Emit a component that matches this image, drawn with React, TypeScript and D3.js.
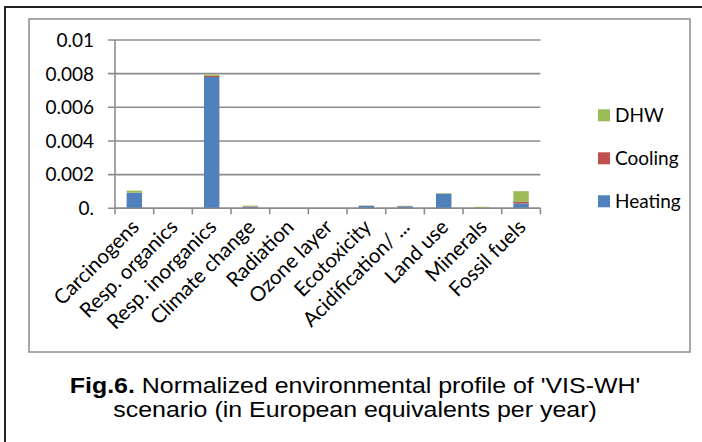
import * as d3 from "d3";

const categories = [
  "Carcinogens",
  "Resp. organics",
  "Resp. inorganics",
  "Climate change",
  "Radiation",
  "Ozone layer",
  "Ecotoxicity",
  "Acidification/ ...",
  "Land use",
  "Minerals",
  "Fossil fuels",
];

const heating = [0.00092, 0.0, 0.0078, 0.00008, 0.0, 0.0, 0.00014, 0.00012, 0.00086, 0.00002, 0.00029];
const cooling = [0.00001, 0.0, 0.00007, 0.00003, 0.0, 0.0, 0.00001, 0.00001, 0.00001, 0.00001, 0.00009];
const dhw = [0.00012, 0.0, 0.00008, 0.00005, 0.0, 0.0, 0.00002, 0.00002, 0.00003, 0.00006, 0.00064];

const yTicks = [0, 0.002, 0.004, 0.006, 0.008, 0.01];
const yTickLabels = ["0.", "0.002", "0.004", "0.006", "0.008", "0.01"];

const seriesKeys = ["Heating", "Cooling", "DHW"];
const colors: Record<string, string> = {
  Heating: "#4f81bd",
  Cooling: "#c0504d",
  DHW: "#9bbb59",
};
const legendOrder = ["DHW", "Cooling", "Heating"];

const W = 702;
const H = 442;
const FONT = "Lato, 'Open Sans', sans-serif";
const CAPTION_FONT = "'Liberation Sans', Arial, sans-serif";
const GRID = "#8c8c8c";

type Row = { cat: string; Heating: number; Cooling: number; DHW: number };

const App = () => {
  const rows: Row[] = categories.map((c, i) => ({
    cat: c,
    Heating: heating[i],
    Cooling: cooling[i],
    DHW: dhw[i],
  }));

  const x = d3
    .scaleBand()
    .domain(categories)
    .range([115, 540.4])
    .paddingInner(0.6)
    .paddingOuter(0.3);
  const y = d3.scaleLinear().domain([0, 0.01]).range([208.3, 40]);

  const stacked = d3.stack<Row>().keys(seriesKeys)(rows);
  const step = x.step();
  const bounds = d3.range(categories.length + 1).map((i) => 115 + i * step);

  return (
    <svg
      width={W}
      height={H}
      viewBox={`0 0 ${W} ${H}`}
      style={{ position: "absolute", left: 0, top: 0, background: "#fff" }}
    >
      <rect x={0} y={0} width={W} height={H} fill="#fff" />
      {/* outer frame, runs off the picture */}
      <rect x={5} y={7} width={760} height={480} fill="none" stroke="#222" strokeWidth={2} />
      {/* chart area frame */}
      <rect x={29} y={19} width={661} height={333} fill="none" stroke={GRID} strokeWidth={1.5} />

      {/* gridlines + y ticks */}
      {yTicks.map((t, i) => (
        <g key={i}>
          <line x1={108} x2={540.4} y1={y(t)} y2={y(t)} stroke={GRID} strokeWidth={1.6} />
          <text
            x={94}
            y={y(t)}
            dy="0.36em"
            textAnchor="end"
            fontFamily={FONT}
            fontSize={19}
            fill="#000"
          >
            {yTickLabels[i]}
          </text>
        </g>
      ))}
      <line x1={115} x2={115} y1={y(0.01)} y2={y(0)} stroke={GRID} strokeWidth={1.6} />

      {/* bars */}
      {stacked.map((s) => (
        <g key={s.key} fill={colors[s.key]}>
          {s.map((d, i) => {
            const h = y(d[0]) - y(d[1]);
            if (h <= 0) return null;
            return (
              <rect
                key={i}
                x={x(categories[i])}
                y={y(d[1])}
                width={x.bandwidth()}
                height={h}
              />
            );
          })}
        </g>
      ))}

      {/* x axis */}
      <line x1={115} x2={540.4} y1={y(0)} y2={y(0)} stroke={GRID} strokeWidth={1.6} />
      {bounds.map((b, i) => (
        <line key={i} x1={b} x2={b} y1={y(0)} y2={y(0) + 6} stroke={GRID} strokeWidth={1.6} />
      ))}
      {categories.map((c) => {
        const cx = (x(c) as number) + x.bandwidth() / 2 + 6;
        return (
          <text
            key={c}
            transform={`translate(${cx},${y(0) + 20}) rotate(-45)`}
            textAnchor="end"
            fontFamily={FONT}
            fontSize={20.5}
            fill="#000"
          >
            {c}
          </text>
        );
      })}

      {/* legend */}
      {legendOrder.map((k, i) => {
        const cy = 115.3 + i * 43;
        return (
          <g key={k}>
            <rect x={598} y={cy - 6} width={12} height={12} fill={colors[k]} />
            <text
              x={615}
              y={cy}
              dy="0.36em"
              fontFamily={FONT}
              fontSize={19}
              fill="#000"
            >
              {k}
            </text>
          </g>
        );
      })}

      {/* caption, widened like the original */}
      <g transform="translate(355,0) scale(1.16,1)">
        <text x={0} y={393} textAnchor="middle" fontFamily={CAPTION_FONT} fontSize={21.5} fill="#000">
          <tspan fontWeight="bold">Fig.6.</tspan> Normalized environmental profile of 'VIS-WH'
        </text>
        <text x={0} y={417} textAnchor="middle" fontFamily={CAPTION_FONT} fontSize={21.5} fill="#000">
          scenario (in European equivalents per year)
        </text>
      </g>
    </svg>
  );
};

export default App;
